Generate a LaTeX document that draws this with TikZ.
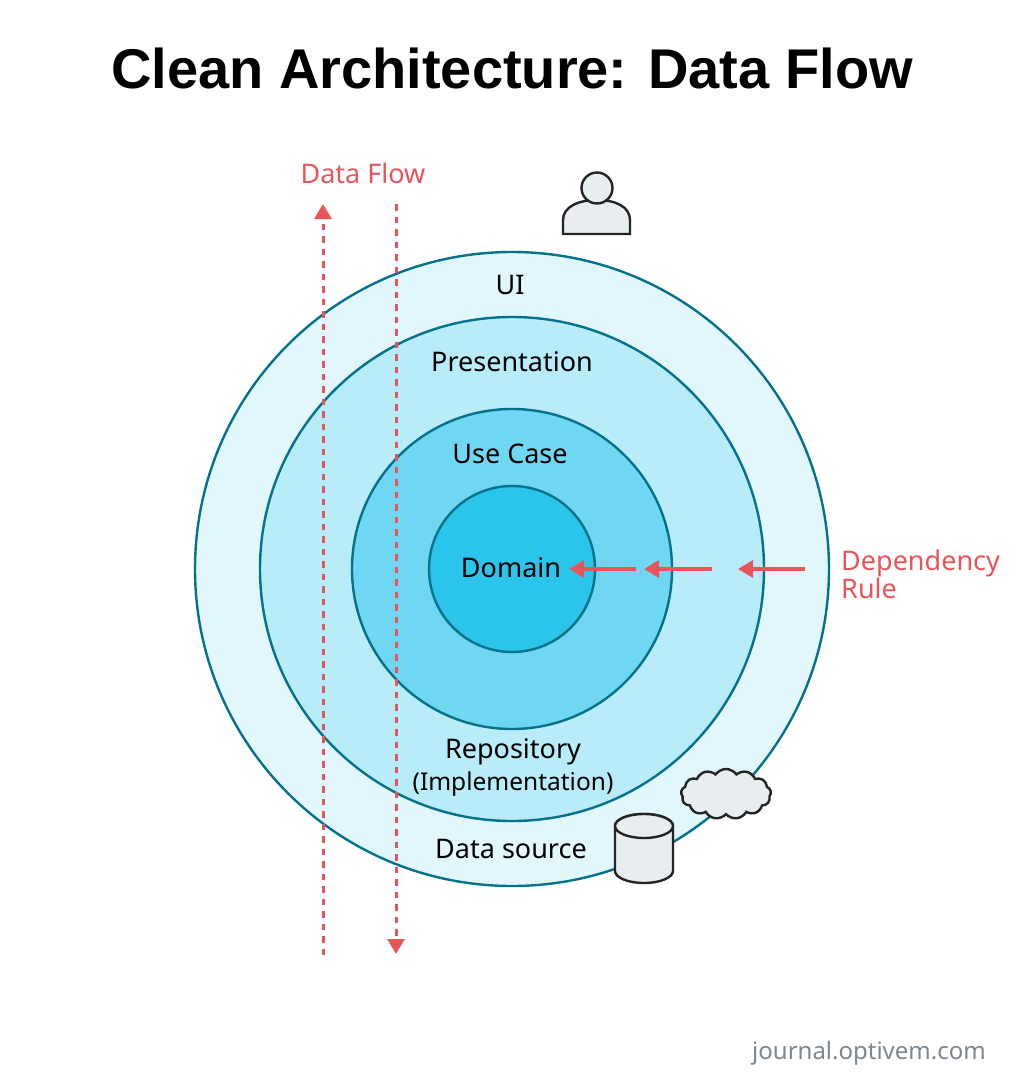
\documentclass[tikz,border=0pt]{standalone}
\usepackage{fontspec}
\setmainfont{Noto Sans}
\newfontfamily\titlefont{Liberation Sans}
\usetikzlibrary{shapes.symbols, arrows.meta, positioning}
\definecolor{ringline}{HTML}{04728C}
\definecolor{uifill}{HTML}{E2F7FC}
\definecolor{presfill}{HTML}{B8ECF9}
\definecolor{usefill}{HTML}{6FD7F1}
\definecolor{domfill}{HTML}{2BC4EA}
\definecolor{flowred}{HTML}{E85558}
\definecolor{icongray}{HTML}{E8EDF0}
\definecolor{icondark}{HTML}{222426}
\definecolor{sitegray}{HTML}{7D878F}
\tikzset{
  ring/.style={circle, draw=ringline, line width=2.4pt, inner sep=0pt},
  layer/.style={font=\fontsize{27}{32}\selectfont, text=black, align=center, inner sep=0pt},
  redlabel/.style={font=\fontsize{27}{28}\selectfont, text=flowred, align=left, inner sep=0pt},
  icon/.style={draw=icondark, fill=icongray, line width=2.4pt},
  flow/.style={draw=flowred, line width=3pt, dash pattern=on 6.5pt off 6pt, -{Triangle[length=15pt, width=17pt]}},
  dep/.style={draw=flowred, line width=3.5pt, -{Triangle[length=15pt, width=17pt]}}
}
\begin{document}
\begin{tikzpicture}[x=1pt,y=-1pt]
\useasboundingbox (0,0) rectangle (1025,1086);
\node (title) [font=\titlefont\bfseries\fontsize{56}{60}\selectfont, inner sep=0pt] at (512,68) {Clean Architecture: Data Flow};

\node (ui)     [ring, minimum size=634pt, fill=uifill] at (512,569) {};
\node (pres)   [ring, minimum size=504pt, fill=presfill] at (ui.center) {};
\node (usecase)[ring, minimum size=320pt, fill=usefill] at (ui.center) {};
\node (domain) [ring, minimum size=166pt, fill=domfill] at (ui.center) {};

\node (uitxt)   [layer] at (510,285) {UI};
\node (prestxt) [layer] at (512,362) {Presentation};
\node (usetxt)  [layer] at (510,454) {Use Case};
\node (domtxt)  [layer] at (511,568) {Domain};
\node (repotxt) [layer] at (513,767) {Repository\\{\fontsize{24.5}{32}\selectfont (Implementation)}};
\node (datatxt) [layer] at (511,849) {Data source};

% person
\draw [icon] (563,234) -- (563,220) .. controls (563,207) and (578,200) .. (597,200)
  .. controls (616,200) and (630,207) .. (630,220) -- (630,234) -- cycle;
\node (head) [circle, icon, minimum size=31pt, inner sep=0pt] at (597,188) {};

% cloud and database
\node (cloud) [cloud, icon, cloud puffs=13, cloud puff arc=110, aspect=2.4, minimum width=90pt, minimum height=50pt, inner sep=0pt] at (726,794) {};
\draw [icon] (615,826) -- (615,871) arc[start angle=180, end angle=360, x radius=29pt, y radius=12pt]
  -- (673,826) arc[start angle=0, end angle=180, x radius=29pt, y radius=12pt] -- cycle;
\draw [icon] (644,826) ellipse[x radius=29pt, y radius=12pt];

% flow arrows
\coordinate (upstart) at (323,955);
\coordinate (upend) at (323,204);
\coordinate (downstart) at (396,204);
\coordinate (downend) at (396,954);
\draw [flow] (upstart) -- (upend);
\draw [flow] (downstart) -- (downend);
\node (flowtxt) [redlabel] at (363,173) {Data Flow};

% dependency rule
\coordinate (a1) at (636,569);
\coordinate (a2) at (569,569);
\coordinate (b1) at (712,569);
\coordinate (b2) at (644,569);
\coordinate (c1) at (805,569);
\coordinate (c2) at (738,569);
\draw [dep] (a1) -- (a2);
\draw [dep] (b1) -- (b2);
\draw [dep] (c1) -- (c2);
\node (deptxt) [redlabel, anchor=west] at (841,574) {Dependency\\Rule};

\node (site) [anchor=east, font=\fontsize{24}{26}\selectfont, text=sitegray, inner sep=0pt] at (986,1053) {journal.optivem.com};
\end{tikzpicture}
\end{document}
